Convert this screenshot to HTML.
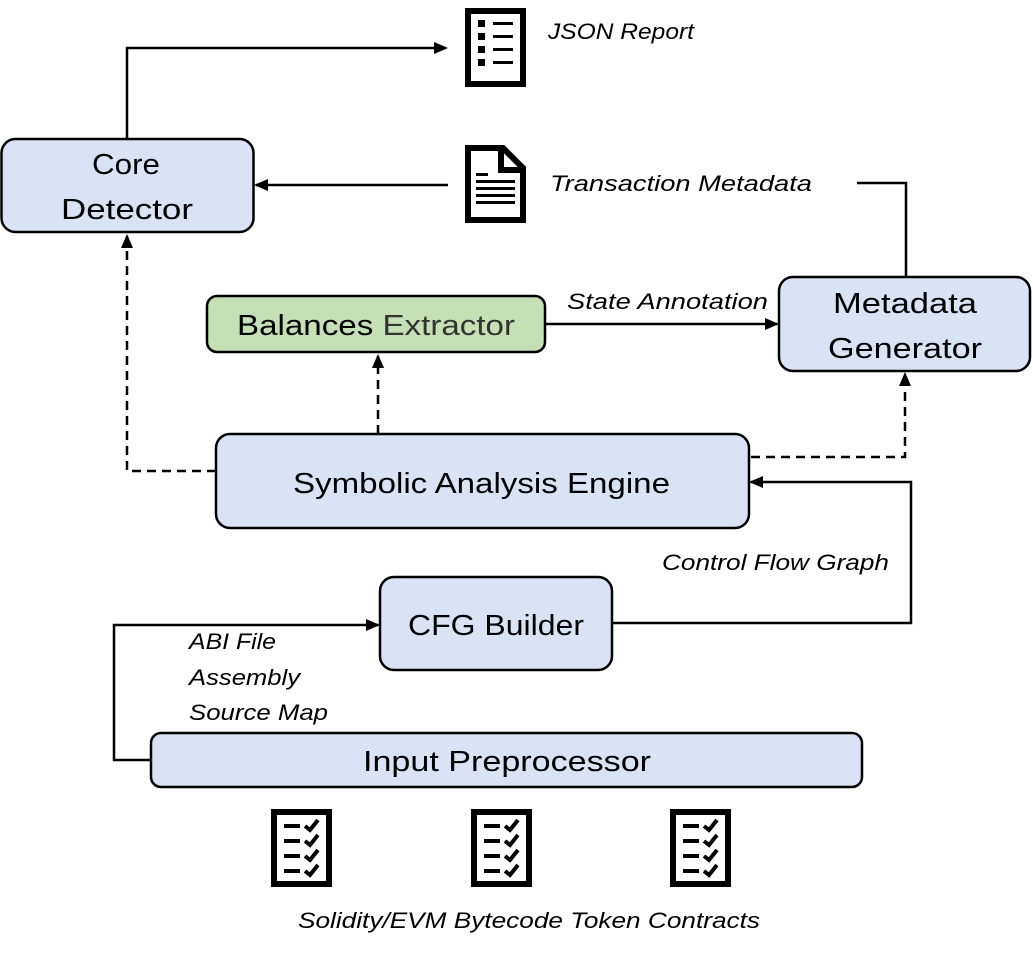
<!DOCTYPE html>
<html><head><meta charset="utf-8"><style>
html,body{margin:0;padding:0;background:#fff}
svg{display:block}
text{font-family:"Liberation Sans",sans-serif;fill:#000}
.b{font-size:29px}
.i{font-size:22px;font-style:italic}
</style></head><body>
<svg width="1033" height="956" viewBox="0 0 1033 956" xmlns="http://www.w3.org/2000/svg">
<defs>
<marker id="a" markerWidth="14" markerHeight="12" refX="12" refY="6" orient="auto" markerUnits="userSpaceOnUse">
<path d="M0,0 L14,6 L0,12 z" fill="#000"/></marker>
</defs>
<g fill="none" stroke="#000" stroke-width="2.5">
<polyline points="127,138 127,48 446,48" marker-end="url(#a)"/>
<line x1="448" y1="185" x2="256" y2="185" marker-end="url(#a)"/>
<polyline points="857,183 906,183 906,277"/>
<line x1="545" y1="324" x2="777" y2="324" marker-end="url(#a)"/>
<polyline points="612,623 911,623 911,482 751,482" marker-end="url(#a)"/>
<polyline points="151,760 114,760 114,625 378,625" marker-end="url(#a)"/>
<g stroke-dasharray="9,6">
<polyline points="216,471 127,471 127,236" marker-end="url(#a)"/>
<line x1="378" y1="434" x2="378" y2="356" marker-end="url(#a)"/>
<polyline points="751,457 905,457 905,374" marker-end="url(#a)"/>
</g>
</g>
<g stroke="#000" stroke-width="2.5" fill="#dae3f3">
<rect x="1.5" y="139" width="252" height="93" rx="14"/>
<rect x="207" y="296" width="338" height="56" rx="10" fill="#c5e0b4"/>
<rect x="779" y="277" width="251" height="94" rx="14"/>
<rect x="216" y="434" width="533" height="94" rx="14"/>
<rect x="380" y="577" width="232" height="93" rx="14"/>
<rect x="151" y="733" width="711" height="54" rx="10"/>
</g>
<g lengthAdjust="spacingAndGlyphs">
<text class="b" x="92" y="174" textLength="68" lengthAdjust="spacingAndGlyphs">Core</text>
<text class="b" x="61" y="219" textLength="132" lengthAdjust="spacingAndGlyphs">Detector</text>
<text class="b" x="237" y="335" textLength="278" lengthAdjust="spacingAndGlyphs">Balances <tspan fill="#333">Extractor</tspan></text>
<text class="b" x="833" y="313" textLength="144" lengthAdjust="spacingAndGlyphs">Metadata</text>
<text class="b" x="828" y="358" textLength="154" lengthAdjust="spacingAndGlyphs">Generator</text>
<text class="b" x="293" y="493" textLength="377" lengthAdjust="spacingAndGlyphs">Symbolic Analysis Engine</text>
<text class="b" x="408" y="635" textLength="176" lengthAdjust="spacingAndGlyphs">CFG Builder</text>
<text class="b" x="363" y="771" textLength="288" lengthAdjust="spacingAndGlyphs">Input Preprocessor</text>
<text class="i" x="548" y="39" textLength="146" lengthAdjust="spacingAndGlyphs">JSON Report</text>
<text class="i" x="550" y="191" textLength="262" lengthAdjust="spacingAndGlyphs">Transaction Metadata</text>
<text class="i" x="567" y="309" textLength="201" lengthAdjust="spacingAndGlyphs">State Annotation</text>
<text class="i" x="662" y="570" textLength="227" lengthAdjust="spacingAndGlyphs">Control Flow Graph</text>
<text class="i" x="189" y="649" textLength="87" lengthAdjust="spacingAndGlyphs">ABI File</text>
<text class="i" x="189" y="685" textLength="111" lengthAdjust="spacingAndGlyphs">Assembly</text>
<text class="i" x="189" y="720" textLength="139" lengthAdjust="spacingAndGlyphs">Source Map</text>
<text class="i" x="298" y="928" textLength="462" lengthAdjust="spacingAndGlyphs">Solidity/EVM Bytecode Token Contracts</text>
</g>
<g>
<rect x="468" y="11" width="55" height="73" fill="none" stroke="#000" stroke-width="6"/>
<g fill="#000">
<rect x="478" y="20" width="7" height="7"/><rect x="493" y="22" width="20" height="3"/>
<rect x="478" y="33" width="7" height="7"/><rect x="493" y="35" width="20" height="3"/>
<rect x="478" y="46" width="7" height="7"/><rect x="493" y="48" width="20" height="3"/>
<rect x="478" y="59" width="7" height="7"/><rect x="493" y="61" width="20" height="3"/>
</g>
</g>
<g>
<path d="M468,148 L503,148 L523,168 L523,220 L468,220 Z" fill="none" stroke="#000" stroke-width="6"/>
<path d="M501,148 L501,170 L523,170" fill="none" stroke="#000" stroke-width="6"/>
<g fill="#000">
<rect x="476" y="173" width="12" height="3"/>
<rect x="476" y="180" width="39" height="3"/>
<rect x="476" y="187" width="39" height="3"/>
<rect x="476" y="194" width="39" height="3"/>
<rect x="476" y="201" width="39" height="3"/>
</g>
</g>
<g id="c">
<rect x="274" y="812" width="55" height="72" fill="none" stroke="#000" stroke-width="6"/>
<g fill="#000">
<rect x="284" y="824" width="16" height="4"/><rect x="284" y="839" width="16" height="4"/>
<rect x="284" y="854" width="16" height="4"/><rect x="284" y="869" width="16" height="4"/>
</g>
<g fill="none" stroke="#000" stroke-width="4">
<polyline points="305,826 310,830 318,820"/><polyline points="305,841 310,845 318,835"/>
<polyline points="305,856 310,860 318,850"/><polyline points="305,871 310,875 318,865"/>
</g>
</g>
<use href="#c" x="200"/>
<use href="#c" x="399"/>
</svg>
</body></html>
